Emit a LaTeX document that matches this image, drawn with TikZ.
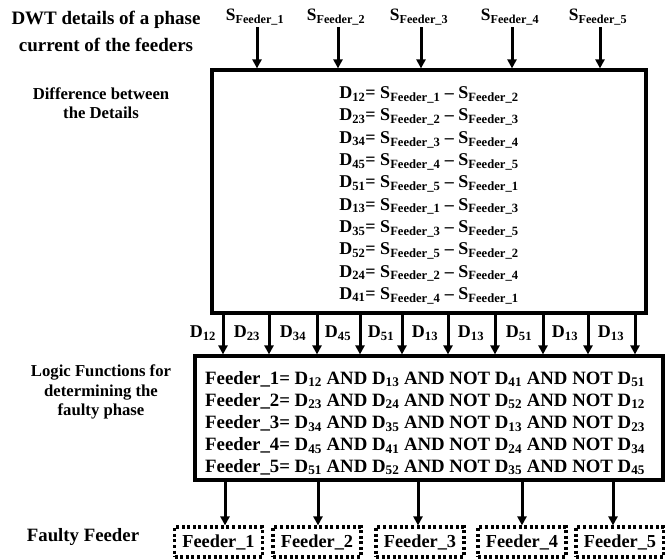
\documentclass[tikz,border=0pt]{standalone}
\usepackage{fontspec}
\setmainfont{Liberation Serif}
\usetikzlibrary{arrows.meta}
\newcommand{\Sf}[1]{S\textsubscript{Feeder\_#1}}
\newcommand{\Dd}[1]{D\textsubscript{#1}}
\begin{document}
\begin{tikzpicture}[x=1pt,y=-1pt,
  every node/.style={font=\bfseries, inner sep=0pt},
  arr/.style={line width=3pt,-{Triangle[length=9pt,width=9pt]}},
  bigbox/.style={draw, line width=3.2pt},
  fbox/.style={draw, line width=3.2pt, dash pattern=on 3pt off 2.6pt, minimum width=88pt, minimum height=30pt, font=\fontsize{18.3}{20}\bfseries},
  side/.style={align=center, font=\fontsize{16.7}{19.5}\bfseries},
  eq/.style={font=\fontsize{18}{20}\bfseries},
  lg/.style={font=\fontsize{18.8}{21}\bfseries, anchor=west},
  dl/.style={font=\fontsize{18}{20}\bfseries}
]
\useasboundingbox (0,0) rectangle (665,560);
% top box
\node[bigbox, minimum width=434pt, minimum height=243pt] (top) at (429,191.5) {};
% bottom box
\node[bigbox, minimum width=468pt, minimum height=124pt] (bot) at (429,418) {};

% headings
\node[align=center, font=\fontsize{19}{27}\bfseries] (h1) at (106,31) {DWT details of a phase\\current of the feeders};
\node[side] (h2) at (101,103) {Difference between\\the Details};
\node[side] (h3) at (101,392) {Logic Functions for\\determining the\\faulty phase};
\node[font=\fontsize{18.8}{20}\bfseries] (h4) at (83,537) {Faulty Feeder};

% S labels and arrows
\foreach \i/\x in {1/257,2/338,3/421,4/512,5/600}{
  \node[font=\fontsize{17.4}{19}\bfseries] (s\i) at (\x-2,17) {\Sf{\i}};
  \coordinate (sa\i) at (\x,27);
  \draw[arr] (sa\i) -- (sa\i |- top.north);
}

% equations
\foreach \t [count=\k] in {
 {\Dd{12}= \Sf{1} – \Sf{2}},
 {\Dd{23}= \Sf{2} – \Sf{3}},
 {\Dd{34}= \Sf{3} – \Sf{4}},
 {\Dd{45}= \Sf{4} – \Sf{5}},
 {\Dd{51}= \Sf{5} – \Sf{1}},
 {\Dd{13}= \Sf{1} – \Sf{3}},
 {\Dd{35}= \Sf{3} – \Sf{5}},
 {\Dd{52}= \Sf{5} – \Sf{2}},
 {\Dd{24}= \Sf{2} – \Sf{4}},
 {\Dd{41}= \Sf{4} – \Sf{1}}}{
  \node[eq] (e\k) at (429,{95+(\k-1)*22.3}) {\t};
}

% D arrows
\foreach \x [count=\k] in {223,269,317,360,402,448,495,543,588,635}{
  \coordinate (da\k) at (\x,0);
  \draw[arr] (da\k |- top.south) -- (da\k |- bot.north);
}
\foreach \t/\x [count=\k] in {12/203,23/247,34/293,45/338,51/381,13/425,13/471,51/519,13/565,13/611}{
  \node[dl] (dl\k) at (\x,333) {\Dd{\t}};
}

% logic lines
\node[lg] (l1) at (205,379) {Feeder\_1= \Dd{12} AND \Dd{13} AND NOT \Dd{41} AND NOT \Dd{51}};
\node[lg] (l2) at (205,401) {Feeder\_2= \Dd{23} AND \Dd{24} AND NOT \Dd{52} AND NOT \Dd{12}};
\node[lg] (l3) at (205,423.5) {Feeder\_3= \Dd{34} AND \Dd{35} AND NOT \Dd{13} AND NOT \Dd{23}};
\node[lg] (l4) at (205,445.5) {Feeder\_4= \Dd{45} AND \Dd{41} AND NOT \Dd{24} AND NOT \Dd{34}};
\node[lg] (l5) at (205,467) {Feeder\_5= \Dd{51} AND \Dd{52} AND NOT \Dd{35} AND NOT \Dd{45}};

% output boxes
\node[fbox] (f1) at (218.5,542) {Feeder\_1};
\node[fbox] (f2) at (317,542) {Feeder\_2};
\node[fbox] (f3) at (420,542) {Feeder\_3};
\node[fbox] (f4) at (522,542) {Feeder\_4};
\node[fbox] (f5) at (620,542) {Feeder\_5};
\foreach \i/\x in {1/225,2/318,3/418,4/522,5/613}{
  \coordinate (fa\i) at (\x,0);
  \draw[arr] (fa\i |- bot.south) -- (fa\i |- f1.north);
}
\end{tikzpicture}
\end{document}
